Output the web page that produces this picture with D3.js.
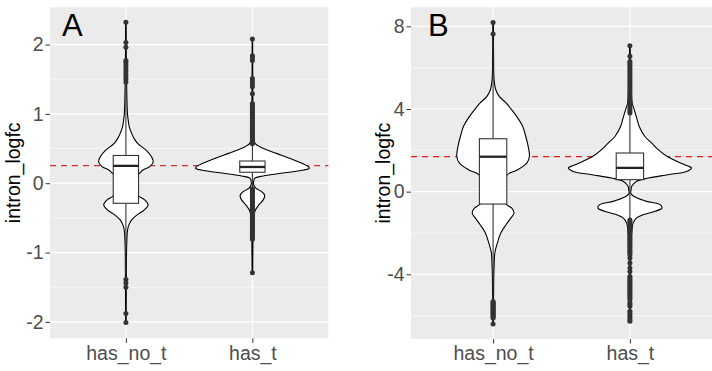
<!DOCTYPE html>
<html><head><meta charset="utf-8">
<script src="https://cdn.jsdelivr.net/npm/d3@7"></script>
<style>body{margin:0;background:#fff}svg{display:block}</style>
</head><body><svg id="c" width="712" height="371"></svg>
<script>
// ---------------- data ----------------
const categories = ["has_no_t", "has_t"];
const yTitle = "intron_logfc";

// Panel A
const aLabel = "A";
const aTicks = [-2, -1, 0, 1, 2];
const aMinor = [-1.5, -0.5, 0.5, 1.5];
const aRefLine = 0.253;
const aNoT_y    = [-2.02,-1.5,-1.0,-0.8,-0.72,-0.62,-0.53,-0.46,-0.38,-0.31,-0.24,-0.19,-0.12,0.0,0.10,0.14,0.19,0.24,0.31,0.38,0.48,0.57,0.65,0.72,0.81,0.91,1.0,1.2,1.6,2.32];
const aNoT_dens = [0.005,0.007,0.011,0.018,0.023,0.044,0.10,0.19,0.33,0.39,0.33,0.23,0.16,0.12,0.16,0.23,0.30,0.42,0.48,0.45,0.35,0.21,0.14,0.10,0.06,0.04,0.028,0.018,0.009,0.005];
const aT_y    = [-1.29,-0.8,-0.6,-0.46,-0.38,-0.31,-0.24,-0.19,-0.15,-0.12,-0.07,-0.03,0.02,0.07,0.105,0.14,0.18,0.215,0.24,0.29,0.36,0.43,0.48,0.527,0.57,0.7,1.0,1.5,2.08];
const aT_dens = [0.005,0.01,0.015,0.026,0.058,0.118,0.19,0.216,0.2,0.158,0.058,0.025,0.02,0.04,0.19,0.48,0.83,1.0,0.98,0.86,0.65,0.42,0.26,0.13,0.05,0.02,0.01,0.006,0.004];
// box stats: [lower whisker, q1, median, q3, upper whisker]
const aNoT_box = [-1.32, -0.29, 0.25, 0.40, 1.43];
const aT_box   = [-0.07, 0.158, 0.234, 0.32, 0.56];
const aNoT_out = [2.32,2.03,1.96,1.77,1.74,1.70,1.66,1.62,1.58,1.54,1.50,1.46,-1.39,-1.44,-1.50,-1.88,-2.01];
const aT_out = [2.08,1.84,1.81,1.77,1.51,1.47,1.43,1.39,1.29,1.15,1.12,1.10,1.07,1.05,1.02,1.0,0.98,0.95,0.93,0.9,0.88,0.86,0.83,0.81,0.79,0.77,0.75,0.73,0.71,0.69,0.67,0.65,0.63,0.61,0.59,0.57,
  -0.08,-0.1,-0.12,-0.14,-0.16,-0.18,-0.2,-0.22,-0.24,-0.26,-0.28,-0.30,-0.32,-0.34,-0.36,-0.38,-0.40,-0.42,-0.44,-0.46,-0.48,-0.50,-0.52,-0.54,-0.56,-0.58,-0.60,-0.62,-0.64,-0.66,-0.68,-0.70,-0.72,-0.74,-0.76,-0.78,-0.81,-1.29];

// Panel B
const bLabel = "B";
const bTicks = [-4, 0, 4, 8];
const bMinor = [-6, -2, 2, 6];
const bRefLine = 1.69;
const bNoT_y    = [-6.40,-5.0,-4.0,-3.5,-2.97,-2.48,-2.0,-1.6,-1.27,-1.03,-0.79,-0.63,-0.4,0.0,0.5,0.82,1.06,1.39,1.71,2.19,2.68,3.16,3.57,3.97,4.29,4.61,4.93,5.42,6.5,8.19];
const bNoT_dens = [0.005,0.008,0.012,0.018,0.028,0.07,0.125,0.21,0.29,0.34,0.30,0.22,0.16,0.14,0.18,0.23,0.40,0.55,0.59,0.57,0.53,0.48,0.40,0.30,0.21,0.10,0.044,0.016,0.008,0.005];
const bT_y    = [-6.27,-4.0,-2.5,-2.0,-1.51,-1.27,-1.11,-0.95,-0.79,-0.63,-0.47,-0.3,-0.15,-0.06,0.1,0.26,0.5,0.66,0.82,0.98,1.15,1.26,1.47,1.71,2.03,2.36,2.68,3.16,3.57,3.97,4.29,5.0,6.0,7.06];
const bT_dens = [0.005,0.01,0.018,0.028,0.054,0.11,0.22,0.41,0.52,0.49,0.27,0.11,0.03,0.012,0.02,0.03,0.11,0.30,0.62,0.92,1.0,0.92,0.76,0.60,0.46,0.35,0.24,0.15,0.11,0.07,0.037,0.02,0.01,0.005];
const bNoT_box = [-5.25, -0.60, 1.69, 2.56, 7.3];
const bT_box   = [-1.30, 0.58, 1.15, 1.87, 3.75];
const bNoT_out = [8.19,7.63,-5.31,-5.36,-5.41,-5.46,-5.51,-5.56,-5.61,-5.66,-5.71,-5.76,-5.81,-5.86,-5.91,-5.96,-6.01,-6.06,-6.11,-6.40];
const bT_out = [7.06,6.55,6.3,6.2,6.1,6.0,5.9,5.8,5.7,5.6,5.5,5.4,5.3,5.2,5.1,5.0,4.9,4.8,4.7,4.6,4.5,4.4,4.3,4.2,4.1,4.0,3.9,3.8,
  -1.37,-1.45,-1.53,-1.61,-1.69,-1.77,-1.85,-1.93,-2.01,-2.09,-2.17,-2.25,-2.33,-2.41,-2.49,-2.57,-2.65,-2.73,-2.81,-2.89,-2.97,-3.05,
  -3.21,-3.45,-3.69,-3.86,
  -4.10,-4.18,-4.26,-4.34,-4.42,-4.50,-4.58,-4.66,-4.74,-4.82,-4.90,-4.98,-5.06,-5.14,-5.22,
  -5.38,-5.46,-5.55,-5.79,-5.90,-6.00,-6.10,-6.20,-6.27];

// ---------------- drawing ----------------
const svg = d3.select("#c");
const FONT = "'Liberation Sans', Arial, Helvetica, sans-serif";

const panels = [
  {label: aLabel, ticks: aTicks, minor: aMinor, ref: aRefLine, refColor: "#d03030",
   box: {left: 50, right: 328.3, top: 7.3, bottom: 338.3}, titleX: 13.5, labelDx: 12,
   groups: [
     {y: aNoT_y, dens: aNoT_dens, stats: aNoT_box, out: aNoT_out},
     {y: aT_y, dens: aT_dens, stats: aT_box, out: aT_out}]},
  {label: bLabel, ticks: bTicks, minor: bMinor, ref: bRefLine, refColor: "#ea1b1b",
   box: {left: 411, right: 712, top: 7.3, bottom: 339}, titleX: 383.5, labelDx: 17,
   groups: [
     {y: bNoT_y, dens: bNoT_dens, stats: bNoT_box, out: bNoT_out},
     {y: bT_y, dens: bT_dens, stats: bT_box, out: bT_out}]}
];

panels.forEach(p => {
  const b = p.box;
  const allVals = p.groups.flatMap(g => g.y.concat(g.out));
  const lo = d3.min(allVals), hi = d3.max(allVals), pad = (hi - lo) * 0.05;
  const y = d3.scaleLinear().domain([lo - pad, hi + pad]).range([b.bottom, b.top]);
  const x = d3.scalePoint().domain(categories).range([b.left, b.right]).padding(0.6);
  const step = x.step();
  const maxDens = d3.max(p.groups.flatMap(g => g.dens));
  const w = d3.scaleLinear().domain([0, maxDens]).range([0, 0.45 * step]);

  const g = svg.append("g");
  g.append("rect").attr("x", b.left).attr("y", b.top)
    .attr("width", b.right - b.left).attr("height", b.bottom - b.top).attr("fill", "#EBEBEB");
  g.selectAll(".mn").data(p.minor).enter().append("line")
    .attr("x1", b.left).attr("x2", b.right).attr("y1", d => y(d)).attr("y2", d => y(d))
    .attr("stroke", "#fff").attr("stroke-width", 0.6);
  g.selectAll(".mj").data(p.ticks).enter().append("line")
    .attr("x1", b.left).attr("x2", b.right).attr("y1", d => y(d)).attr("y2", d => y(d))
    .attr("stroke", "#fff").attr("stroke-width", 1.2);
  g.selectAll(".mx").data(categories).enter().append("line")
    .attr("x1", d => x(d)).attr("x2", d => x(d)).attr("y1", b.top).attr("y2", b.bottom)
    .attr("stroke", "#fff").attr("stroke-width", 1.2);

  g.append("line").attr("x1", b.left).attr("x2", b.right)
    .attr("y1", y(p.ref)).attr("y2", y(p.ref))
    .attr("stroke", p.refColor).attr("stroke-width", 1.2).attr("stroke-dasharray", "6,5");

  p.groups.forEach((grp, i) => {
    const cx = x(categories[i]);
    const pts = grp.y.map((v, k) => [v, grp.dens[k]]);
    const area = d3.area()
      .y(d => y(d[0]))
      .x0(d => cx - w(d[1]))
      .x1(d => cx + w(d[1]))
      .curve(d3.curveCatmullRom);
    g.append("path").attr("d", area(pts))
      .attr("fill", "#fff").attr("stroke", "#000").attr("stroke-width", 1.1);

    const s = grp.stats;
    const bw = 0.2 * step;
    g.append("line").attr("x1", cx).attr("x2", cx).attr("y1", y(s[3])).attr("y2", y(s[4]))
      .attr("stroke", "#333").attr("stroke-width", 1.1);
    g.append("line").attr("x1", cx).attr("x2", cx).attr("y1", y(s[1])).attr("y2", y(s[0]))
      .attr("stroke", "#333").attr("stroke-width", 1.1);
    g.append("rect").attr("x", cx - bw / 2).attr("width", bw)
      .attr("y", y(s[3])).attr("height", y(s[1]) - y(s[3]))
      .attr("fill", "#fff").attr("stroke", "#333").attr("stroke-width", 1.1);
    g.append("line").attr("x1", cx - bw / 2).attr("x2", cx + bw / 2)
      .attr("y1", y(s[2])).attr("y2", y(s[2]))
      .attr("stroke", "#222").attr("stroke-width", 2.3);
    g.selectAll(null).data(grp.out).enter().append("circle")
      .attr("cx", cx).attr("cy", d => y(d)).attr("r", 2.5).attr("fill", "#333");
  });

  const ya = g.append("g").attr("transform", `translate(${b.left},0)`)
    .call(d3.axisLeft(y).tickValues(p.ticks).tickSize(4.5).tickPadding(2).tickFormat(d => String(d)));
  ya.select(".domain").remove();
  ya.selectAll("line").attr("stroke", "#333").attr("stroke-width", 1);
  ya.selectAll("text").attr("font-family", FONT).attr("font-size", 19.5).attr("fill", "#4D4D4D");

  const xa = g.append("g").attr("transform", `translate(0,${b.bottom})`)
    .call(d3.axisBottom(x).tickSize(4.5).tickPadding(3));
  xa.select(".domain").remove();
  xa.selectAll("line").attr("stroke", "#333").attr("stroke-width", 1);
  xa.selectAll("text").attr("font-family", FONT).attr("font-size", 19.5).attr("fill", "#4D4D4D");

  g.append("text").attr("transform", `translate(${p.titleX + 6},${(b.top + b.bottom) / 2}) rotate(-90)`)
    .attr("text-anchor", "middle").attr("font-family", FONT).attr("font-size", 19.5)
    .attr("fill", "#000").text(yTitle);

  g.append("text").attr("x", b.left + p.labelDx).attr("y", 36)
    .attr("font-family", FONT).attr("font-size", 31).attr("fill", "#000").text(p.label);
});
</script>
</body></html>
